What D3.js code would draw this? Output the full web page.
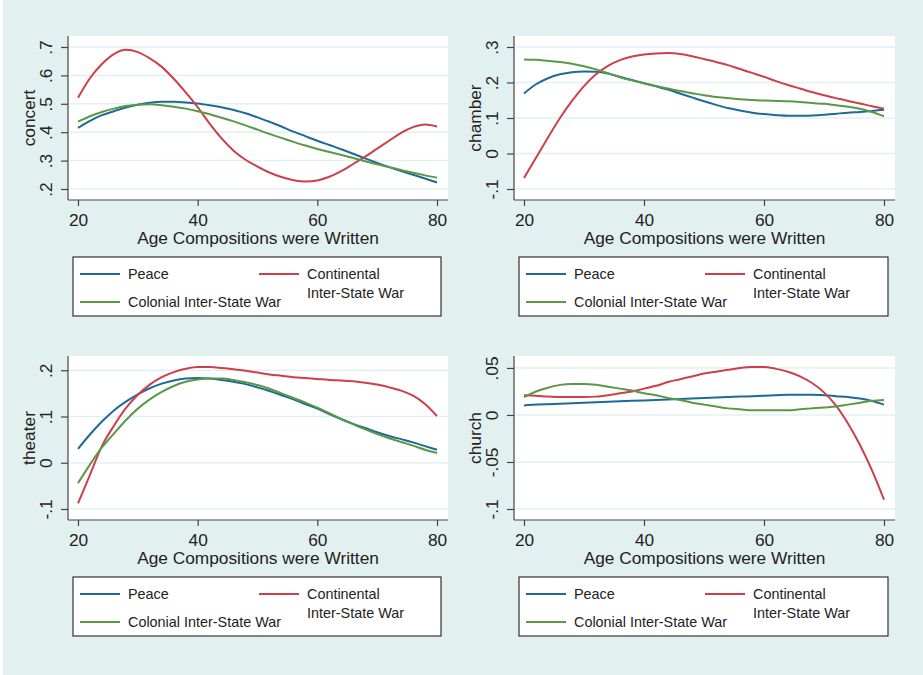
<!DOCTYPE html>
<html>
<head>
<meta charset="utf-8">
<script src="https://cdn.jsdelivr.net/npm/d3@7"></script>
<style>
  body { margin: 0; background: #fff; }
  text { font-family: "Liberation Sans", Arial, sans-serif; fill: #222; }
</style>
</head>
<body>
<div class="chart"></div>
<script>
// age grid shared by every panel
let ages = [20, 22, 24, 26, 28, 30, 32, 34, 36, 38, 40, 42, 44, 46, 48, 50,
  52, 54, 56, 58, 60, 62, 64, 66, 68, 70, 72, 74, 76, 78, 80];

let seriesNames = ["Peace", "Continental Inter-State War", "Colonial Inter-State War"];
let seriesColors = ["#1d6a98", "#cc3f4b", "#5a9847"];

// concert
let concertPeace = [0.415, 0.440, 0.460, 0.474, 0.487, 0.497, 0.504, 0.507, 0.507, 0.505, 0.501,
  0.495, 0.488, 0.478, 0.467, 0.452, 0.437, 0.420, 0.402, 0.386, 0.370, 0.355, 0.340, 0.324,
  0.308, 0.292, 0.277, 0.263, 0.250, 0.237, 0.223];
let concertContinental = [0.521, 0.590, 0.640, 0.675, 0.690, 0.682, 0.660, 0.630, 0.588, 0.540,
  0.488, 0.430, 0.378, 0.335, 0.303, 0.279, 0.258, 0.242, 0.231, 0.226, 0.230, 0.243, 0.263,
  0.288, 0.314, 0.342, 0.370, 0.398, 0.418, 0.427, 0.420];
let concertColonial = [0.437, 0.456, 0.471, 0.483, 0.492, 0.497, 0.498, 0.495, 0.490, 0.483, 0.474,
  0.463, 0.451, 0.438, 0.424, 0.409, 0.394, 0.380, 0.366, 0.353, 0.341, 0.330, 0.320, 0.309,
  0.298, 0.287, 0.277, 0.267, 0.257, 0.248, 0.240];

// chamber
let chamberPeace = [0.169, 0.195, 0.212, 0.223, 0.229, 0.231, 0.230, 0.225, 0.216, 0.207, 0.198,
  0.189, 0.180, 0.169, 0.158, 0.147, 0.137, 0.128, 0.121, 0.115, 0.111, 0.108, 0.106, 0.106,
  0.107, 0.109, 0.112, 0.115, 0.117, 0.120, 0.123];
let chamberContinental = [-0.069, -0.012, 0.045, 0.100, 0.148, 0.190, 0.223, 0.247, 0.263, 0.273,
  0.279, 0.282, 0.283, 0.280, 0.274, 0.266, 0.258, 0.249, 0.238, 0.227, 0.216, 0.204, 0.193,
  0.183, 0.173, 0.164, 0.156, 0.148, 0.141, 0.133, 0.126];
let chamberColonial = [0.265, 0.264, 0.261, 0.258, 0.253, 0.246, 0.237, 0.226, 0.215, 0.206, 0.198,
  0.190, 0.183, 0.176, 0.170, 0.164, 0.159, 0.156, 0.153, 0.151, 0.149, 0.148, 0.147, 0.145,
  0.142, 0.140, 0.136, 0.132, 0.126, 0.117, 0.105];

// theater
let theaterPeace = [0.030, 0.061, 0.089, 0.113, 0.132, 0.148, 0.161, 0.171, 0.178, 0.182, 0.183,
  0.182, 0.179, 0.175, 0.170, 0.163, 0.155, 0.146, 0.137, 0.127, 0.117, 0.105, 0.094, 0.084,
  0.075, 0.066, 0.058, 0.051, 0.044, 0.036, 0.028];
let theaterContinental = [-0.088, -0.026, 0.036, 0.080, 0.118, 0.147, 0.169, 0.185, 0.196, 0.203,
  0.207, 0.207, 0.205, 0.202, 0.199, 0.195, 0.191, 0.188, 0.185, 0.183, 0.181, 0.179, 0.178,
  0.176, 0.173, 0.169, 0.163, 0.156, 0.145, 0.127, 0.101];
let theaterColonial = [-0.044, -0.004, 0.033, 0.063, 0.092, 0.117, 0.137, 0.153, 0.166, 0.175, 0.180,
  0.182, 0.182, 0.179, 0.174, 0.168, 0.160, 0.150, 0.140, 0.130, 0.119, 0.107, 0.095, 0.083,
  0.072, 0.062, 0.053, 0.045, 0.037, 0.028, 0.021];

// church
let churchPeace = [0.010, 0.011, 0.0115, 0.012, 0.0125, 0.013, 0.0135, 0.014, 0.0145, 0.015, 0.0155,
  0.016, 0.0165, 0.017, 0.0175, 0.018, 0.0185, 0.019, 0.0195, 0.020, 0.0205, 0.021, 0.0215,
  0.0215, 0.0215, 0.021, 0.020, 0.019, 0.0175, 0.0148, 0.011];
let churchContinental = [0.021, 0.0205, 0.0195, 0.019, 0.019, 0.019, 0.0195, 0.021, 0.023, 0.025,
  0.028, 0.031, 0.035, 0.038, 0.041, 0.044, 0.046, 0.048, 0.050, 0.051, 0.051, 0.049, 0.046,
  0.041, 0.034, 0.024, 0.010, -0.009, -0.032, -0.059, -0.090];
let churchColonial = [0.019, 0.025, 0.029, 0.032, 0.033, 0.033, 0.032, 0.030, 0.028, 0.026, 0.023,
  0.021, 0.018, 0.016, 0.013, 0.011, 0.009, 0.007, 0.006, 0.005, 0.005, 0.005, 0.005, 0.006,
  0.007, 0.008, 0.009, 0.011, 0.013, 0.015, 0.016];

let xTicks = [20, 40, 60, 80];
let concertTicks = [0.2, 0.3, 0.4, 0.5, 0.6, 0.7];
let concertLabels = [".2", ".3", ".4", ".5", ".6", ".7"];
let chamberTicks = [-0.1, 0, 0.1, 0.2, 0.3];
let chamberLabels = ["-.1", "0", ".1", ".2", ".3"];
let theaterTicks = [-0.1, 0, 0.1, 0.2];
let theaterLabels = ["-.1", "0", ".1", ".2"];
let churchTicks = [-0.1, -0.05, 0, 0.05];
let churchLabels = ["-.1", "-.05", "0", ".05"];

let xTitle = "Age Compositions were Written";

// panel layout
let panels = [
  { title: "concert", series: [concertPeace, concertContinental, concertColonial],
    ticks: concertTicks, labels: concertLabels, left: 68, right: 448, top: 36, bottom: 200 },
  { title: "chamber", series: [chamberPeace, chamberContinental, chamberColonial],
    ticks: chamberTicks, labels: chamberLabels, left: 514, right: 895, top: 36, bottom: 200 },
  { title: "theater", series: [theaterPeace, theaterContinental, theaterColonial],
    ticks: theaterTicks, labels: theaterLabels, left: 68, right: 448, top: 356, bottom: 520 },
  { title: "church", series: [churchPeace, churchContinental, churchColonial],
    ticks: churchTicks, labels: churchLabels, left: 514, right: 895, top: 356, bottom: 520 },
];

let bg = "#e3f0f0";
let axisColor = "#444";
let font = '"Liberation Sans", Arial, sans-serif';

let svg = d3
  .select(".chart")
  .append("svg")
  .attr("width", 923)
  .attr("height", 675);

svg.append("rect").attr("width", 923).attr("height", 675).style("fill", "#fff");
svg.append("rect").attr("x", 3).attr("width", 920).attr("height", 675).style("fill", bg);

panels.forEach((p) => {
  let g = svg.append("g");
  let pad = 11;

  let xScale = d3.scaleLinear().domain([20, 80]).range([p.left + 10, p.right - 11]);
  let yExtent = d3.extent(p.ticks.concat(...p.series));
  let yScale = d3.scaleLinear().domain(yExtent).range([p.bottom - pad, p.top + pad]);

  // plot region
  g.append("rect")
    .attr("x", p.left)
    .attr("y", p.top)
    .attr("width", p.right - p.left)
    .attr("height", p.bottom - p.top)
    .style("fill", "#fff");

  // grid lines
  g.selectAll(".grid")
    .data(p.ticks)
    .enter()
    .append("line")
    .attr("x1", p.left + 1)
    .attr("x2", p.right)
    .attr("y1", (d) => yScale(d))
    .attr("y2", (d) => yScale(d))
    .style("stroke", bg)
    .style("stroke-width", 1.5);

  // lines
  let line = d3
    .line()
    .x((d, i) => xScale(ages[i]))
    .y((d) => yScale(d))
    .curve(d3.curveMonotoneX);

  p.series.forEach((s, i) => {
    g.append("path")
      .attr("d", line(s))
      .style("fill", "none")
      .style("stroke", seriesColors[i])
      .style("stroke-width", 2);
  });

  // y axis
  let yAxis = d3
    .axisLeft(yScale)
    .tickValues(p.ticks)
    .tickFormat((d, i) => p.labels[i])
    .tickSize(7)
    .tickSizeOuter(0);
  let ya = g.append("g").attr("transform", `translate(${p.left}, 0)`).call(yAxis);
  ya.select(".domain").remove();
  ya.selectAll("line").style("stroke", axisColor).style("stroke-width", 1.2);
  ya.selectAll("text")
    .attr("x", 0)
    .attr("y", 0)
    .attr("dy", "0.35em")
    .attr("text-anchor", "middle")
    .attr("transform", "translate(-22, 0) rotate(-90)")
    .style("font-size", "17.3px")
    .style("font-family", font)
    .style("fill", "#222");

  // x axis
  let xAxis = d3.axisBottom(xScale).tickValues(xTicks).tickSize(6).tickPadding(8).tickSizeOuter(0);
  let xa = g.append("g").attr("transform", `translate(0, ${p.bottom})`).call(xAxis);
  xa.select(".domain").remove();
  xa.selectAll("line").style("stroke", axisColor).style("stroke-width", 1.2);
  xa.selectAll("text")
    .style("font-size", "17.3px")
    .style("font-family", font)
    .style("fill", "#222");

  // axis lines
  g.append("line")
    .attr("x1", p.left).attr("x2", p.left)
    .attr("y1", p.top).attr("y2", p.bottom)
    .style("stroke", axisColor).style("stroke-width", 1.2);
  g.append("line")
    .attr("x1", p.left).attr("x2", p.right)
    .attr("y1", p.bottom).attr("y2", p.bottom)
    .style("stroke", axisColor).style("stroke-width", 1.2);

  // titles
  g.append("text")
    .attr("x", (p.left + p.right) / 2)
    .attr("y", p.bottom + 43.5)
    .attr("text-anchor", "middle")
    .style("font-size", "17.3px")
    .text(xTitle);
  g.append("text")
    .attr("transform", `translate(${p.left - 39}, ${(p.top + p.bottom) / 2}) rotate(-90)`)
    .attr("dy", "0.35em")
    .attr("text-anchor", "middle")
    .style("font-size", "17.3px")
    .text(p.title);

  // legend
  let lx = p.left + 5;
  let ly = p.bottom + 57;
  let lg = g.append("g").attr("transform", `translate(${lx}, ${ly})`);
  lg.append("rect")
    .attr("width", p.right - 7 - lx)
    .attr("height", 59)
    .style("fill", "#fff")
    .style("stroke", "#333")
    .style("stroke-width", 1.2);

  let keys = [
    { x: 7, y: 17, lines: ["Peace"] },
    { x: 186, y: 17, lines: ["Continental", "Inter-State War"] },
    { x: 7, y: 45, lines: ["Colonial Inter-State War"] },
  ];
  keys.forEach((k, i) => {
    lg.append("line")
      .attr("x1", k.x).attr("x2", k.x + 40)
      .attr("y1", k.y).attr("y2", k.y)
      .style("stroke", seriesColors[i])
      .style("stroke-width", 2);
    k.lines.forEach((t, j) => {
      lg.append("text")
        .attr("x", k.x + 48)
        .attr("y", k.y + j * 19)
        .attr("dy", "0.35em")
        .style("font-size", "14.4px")
        .text(t);
    });
  });
});
</script>
</body>
</html>
